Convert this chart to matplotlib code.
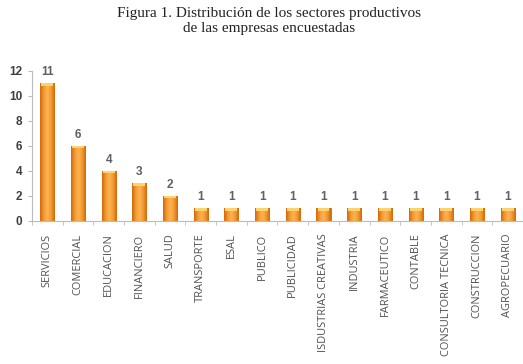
import numpy as np
import matplotlib
matplotlib.use("Agg")
import matplotlib.pyplot as plt
from matplotlib.colors import LinearSegmentedColormap

sectores = ["SERVICIOS", "COMERCIAL", "EDUCACION", "FINANCIERO", "SALUD",
            "TRANSPORTE", "ESAL", "PUBLICO", "PUBLICIDAD",
            "ISDUSTRIAS CREATIVAS", "INDUSTRIA", "FARMACEUTICO", "CONTABLE",
            "CONSULTORIA TECNICA", "CONSTRUCCION", "AGROPECUARIO"]
empresas = [11, 6, 4, 3, 2, 1, 1, 1, 1, 1, 1, 1, 1, 1, 1, 1]

fig = plt.figure(figsize=(5.23, 3.64), dpi=100)
ax = fig.add_axes([0.061, 0.393, 0.939, 0.412])

x = np.arange(len(sectores))
bars = ax.bar(x, empresas, width=0.46, color="#f0901e", edgecolor="#c8690a",
              linewidth=0.6, zorder=2)

# horizontal gradient inside each bar: darker edges, lighter centre
cmap = LinearSegmentedColormap.from_list(
    "naranja", ["#d0680a", "#f39a30", "#fbb457", "#f39a30", "#d0680a"])
grad = np.linspace(0, 1, 64).reshape(1, -1)
for b in bars:
    x0, w, h = b.get_x(), b.get_width(), b.get_height()
    im = ax.imshow(grad, cmap=cmap, aspect="auto", extent=[x0, x0 + w, 0, h],
                   zorder=2.5, interpolation="bicubic")
    im.set_clip_path(b)
    # light cap at the top of the bar
    ax.fill_between([x0 + w * 0.08, x0 + w * 0.92], h - 0.18, h,
                    color="#fcd36e", zorder=3, lw=0)

for xi, v in zip(x, empresas):
    ax.text(xi, v + 0.4, str(v), ha="center", va="bottom", fontsize=8.5,
            fontweight="bold", color="#606060", family="Liberation Sans")

ax.set_xlim(-0.5, len(sectores) - 0.5)
ax.set_ylim(0, 12)
ax.set_yticks(range(0, 13, 2))
ax.set_xticks(x)
ax.set_xticklabels(sectores, rotation=90, fontsize=7.9, color="#505050",
                   family="Open Sans")
ax.set_xticks(np.arange(-0.5, len(sectores), 1), minor=True)
ax.tick_params(axis="x", which="major", length=0, pad=9)
ax.tick_params(axis="x", which="minor", length=3, color="#bbbbbb")
ax.tick_params(axis="y", length=3, color="#bbbbbb", labelsize=8.5,
               labelcolor="#404040", pad=4)
for lbl in ax.get_yticklabels():
    lbl.set_fontweight("bold")
    lbl.set_family("Liberation Sans")

for s in ["top", "right"]:
    ax.spines[s].set_visible(False)
for s in ["left", "bottom"]:
    ax.spines[s].set_color("#bbbbbb")
    ax.spines[s].set_linewidth(0.8)

fig.text(0.515, 0.98, "Figura 1. Distribución de los sectores productivos\n"
         "de las empresas encuestadas", ha="center", va="top", fontsize=11,
         family="Liberation Serif", color="#222222", linespacing=1.2)

fig.savefig("out.png", dpi=100)
